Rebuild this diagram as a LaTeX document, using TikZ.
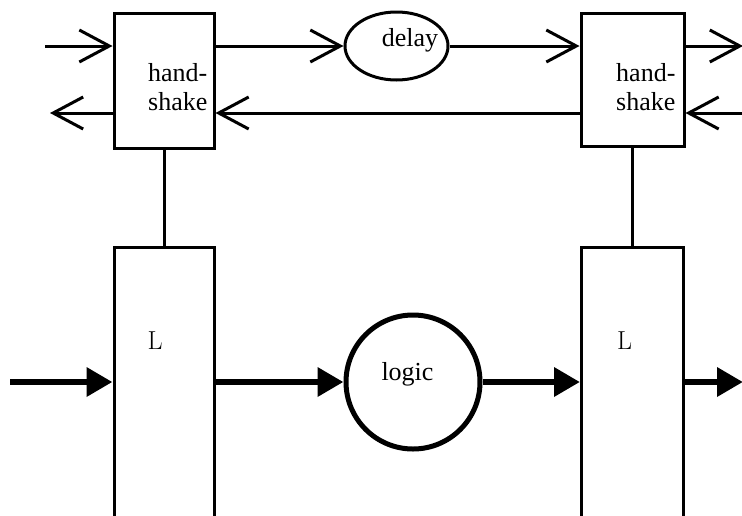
\documentclass[tikz,border=0pt]{standalone}
\usepackage{fontspec}
\newfontfamily\tnr{Liberation Serif}
\usetikzlibrary{arrows.meta,shapes.geometric}
\tikzset{
  box/.style={draw, line width=3pt, minimum width=100pt, inner sep=0pt},
  thin/.style={line width=3pt},
  openarrow/.style={thin, -{Straight Barb[length=30pt,width=32pt,line width=3pt]}},
  thickarrow/.style={line width=6.5pt, -{Triangle[length=26pt,width=28pt]}},
  lab/.style={font=\tnr\fontsize{26}{29}\selectfont, anchor=base, inner sep=0pt},
  Llab/.style={font=\rmfamily\fontsize{26}{29}\selectfont, anchor=base, inner sep=0pt}
}
\begin{document}
\begin{tikzpicture}[x=1pt,y=-1pt]
\useasboundingbox (0,0) rectangle (742,515);
\fill[white] (0,0) rectangle (742,515);
\clip (0,0) rectangle (742,515);
% handshake boxes
\node[box, minimum width=100pt, minimum height=135pt] (hsL) at (164,80.5) {};
\node[box, minimum width=103pt, minimum height=133pt] (hsR) at (632.5,79.5) {};
\node[lab, anchor=base west, align=left] (hsLt) at (148,110) {hand-\\shake};
\node[lab, anchor=base west, align=left] (hsRt) at (616,110) {hand-\\shake};
% latch boxes
\node[box, minimum width=100pt, minimum height=286pt] (LL) at (164,390) {};
\node[box, minimum width=102pt, minimum height=286pt] (LR) at (632.5,390) {};
\node[Llab] (LLt) at (155,349) {L};
\node[Llab] (LRt) at (624.5,349) {L};
% delay and logic
\node[draw, ellipse, line width=3pt, minimum width=103pt, minimum height=68pt, inner sep=0pt] (delay) at (396.5,46) {};
\node[lab] (delayt) at (410,46) {delay};
\node[draw, circle, line width=5pt, minimum size=134pt, inner sep=0pt] (logic) at (413,382) {};
\node[lab] (logict) at (407.5,380) {logic};
% free ends
\coordinate (inTop) at (45,46);
\coordinate (outTop) at (743,46);
\coordinate (inRet) at (743,113);
\coordinate (outRet) at (50,113);
\coordinate (inData) at (10,382);
\coordinate (outData) at (743,382);
% top handshake wires
\draw[openarrow] (inTop) -- (inTop -| hsL.west);
\draw[openarrow] (hsL.east |- delay.west) -- (delay.west);
\draw[openarrow] (delay.east) -- (delay.east -| hsR.west);
\draw[openarrow] (hsR.east |- outTop) -- (outTop);
\draw[openarrow] (inRet) -- (inRet -| hsR.east);
\draw[openarrow] (inRet -| hsR.west) -- (inRet -| hsL.east);
\draw[openarrow] (outRet -| hsL.west) -- (outRet);
% verticals
\draw[thin] (hsL.south) -- (LL.north);
\draw[thin] (hsR.south) -- (LR.north);
% data path
\draw[thickarrow] (inData) -- (inData -| LL.west);
\draw[thickarrow] (LL.east |- logic.west) -- (logic.west);
\draw[thickarrow] (logic.east) -- (logic.east -| LR.west);
\draw[thickarrow] (LR.east |- outData) -- (outData);
\end{tikzpicture}
\end{document}
